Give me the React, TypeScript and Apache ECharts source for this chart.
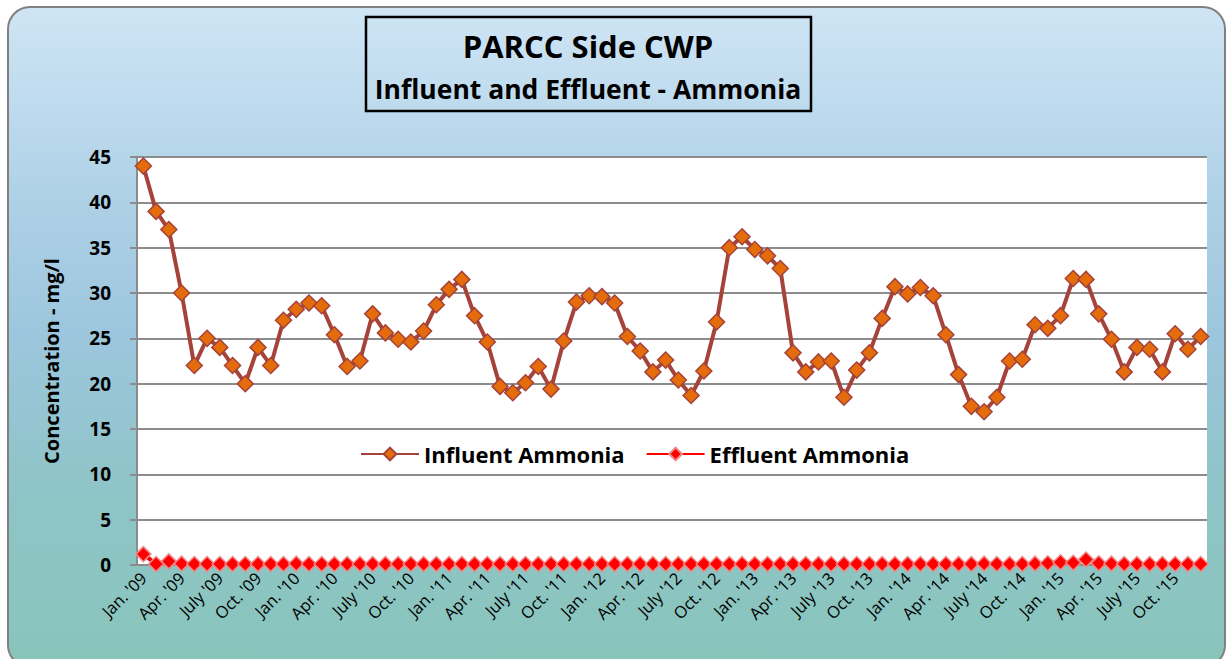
import React, { useEffect, useRef } from "react";
import * as echarts from "echarts";

const monthNames = ["Jan.", "Feb.", "Mar.", "Apr.", "May", "June", "July", "Aug.", "Sept.", "Oct.", "Nov.", "Dec."];
const years = ["09", "10", "11", "12", "13", "14", "15"];
const categories: string[] = [];
years.forEach((y) => monthNames.forEach((m) => categories.push(`${m} '${y}`)));

const influent = [
  44, 39, 37, 30, 22, 25, 24, 22, 20, 24, 22, 27,
  28.2, 28.9, 28.6, 25.4, 21.9, 22.5, 27.7, 25.6, 24.9, 24.6, 25.8, 28.7,
  30.4, 31.5, 27.5, 24.6, 19.7, 19, 20.1, 21.9, 19.4, 24.7, 29, 29.7,
  29.6, 28.9, 25.2, 23.6, 21.3, 22.6, 20.4, 18.7, 21.4, 26.8, 35, 36.2,
  34.8, 34.1, 32.7, 23.4, 21.3, 22.4, 22.5, 18.5, 21.5, 23.4, 27.2, 30.7,
  29.9, 30.6, 29.7, 25.4, 21, 17.5, 16.9, 18.5, 22.5, 22.7, 26.5, 26.1,
  27.5, 31.6, 31.5, 27.7, 24.9, 21.3, 24, 23.8, 21.3, 25.5, 23.8, 25.2,
];

const effluent = [
  1.2, 0.1, 0.4, 0.15, 0.1, 0.1, 0.1, 0.1, 0.1, 0.1, 0.1, 0.1,
  0.15, 0.1, 0.1, 0.1, 0.1, 0.1, 0.1, 0.1, 0.1, 0.1, 0.1, 0.1,
  0.1, 0.1, 0.1, 0.1, 0.1, 0.1, 0.1, 0.1, 0.1, 0.1, 0.1, 0.1,
  0.1, 0.1, 0.1, 0.1, 0.1, 0.1, 0.1, 0.1, 0.1, 0.1, 0.1, 0.1,
  0.1, 0.1, 0.1, 0.1, 0.1, 0.1, 0.1, 0.1, 0.1, 0.1, 0.1, 0.1,
  0.1, 0.1, 0.1, 0.1, 0.1, 0.1, 0.15, 0.1, 0.1, 0.1, 0.15, 0.2,
  0.3, 0.25, 0.6, 0.2, 0.15, 0.1, 0.1, 0.1, 0.1, 0.1, 0.1, 0.1,
];

const yTicks = { min: 0, max: 45, interval: 5 };

const FONT = "'Open Sans', Lato, sans-serif";

export default function App() {
  const ref = useRef<HTMLDivElement>(null);

  useEffect(() => {
    document.body.style.margin = "0";
    if (!ref.current) return;
    const chart = echarts.init(ref.current, undefined, { renderer: "svg" });
    chart.setOption({
      animation: false,
      textStyle: { fontFamily: FONT },
      graphic: [
        {
          type: "rect",
          z: -10,
          silent: true,
          shape: { x: 8, y: 7, width: 1217, height: 660, r: 22 },
          style: {
            fill: new echarts.graphic.LinearGradient(0, 0, 0, 1, [
              { offset: 0, color: "#cfe5f5" },
              { offset: 0.3, color: "#add0e6" },
              { offset: 0.5, color: "#9cc6dd" },
              { offset: 0.72, color: "#8fc4c8" },
              { offset: 1, color: "#89c5bb" },
            ]),
            stroke: "#808080",
            lineWidth: 2,
          },
        },
        {
          type: "rect",
          z: 10,
          silent: true,
          shape: { x: 366, y: 17, width: 445, height: 94 },
          style: { fill: "rgba(0,0,0,0)", stroke: "#000", lineWidth: 2.5 },
        },
        {
          type: "text",
          z: 10,
          x: 588,
          y: 46,
          style: {
            text: "PARCC Side CWP",
            fontFamily: FONT,
            fontWeight: "bold",
            fontSize: 31,
            fill: "#000",
            align: "center",
            verticalAlign: "middle",
          },
        },
        {
          type: "text",
          z: 10,
          x: 588,
          y: 89,
          style: {
            text: "Influent and Effluent - Ammonia",
            fontFamily: FONT,
            fontWeight: "bold",
            fontSize: 26.5,
            fill: "#000",
            align: "center",
            verticalAlign: "middle",
          },
        },
      ],
      grid: {
        left: 137,
        top: 157,
        right: 20,
        bottom: 94,
        show: true,
        backgroundColor: "#ffffff",
        borderWidth: 0,
      },
      legend: {
        left: 355,
        top: 438,
        itemWidth: 58,
        itemHeight: 16,
        itemGap: 21,
        textStyle: { fontFamily: FONT, fontWeight: "bold", fontSize: 22, color: "#000" },
        data: ["Influent Ammonia", "Effluent Ammonia"],
      },
      xAxis: {
        type: "category",
        data: categories,
        boundaryGap: true,
        axisLine: { show: true, lineStyle: { color: "#8c8c8c", width: 2 } },
        axisTick: { show: false },
        axisLabel: {
          interval: 2,
          rotate: 45,
          fontFamily: FONT,
          fontSize: 16.5,
          color: "#000",
          margin: 10,
        },
      },
      yAxis: {
        type: "value",
        min: yTicks.min,
        max: yTicks.max,
        interval: yTicks.interval,
        name: "Concentration - mg/l",
        nameLocation: "middle",
        nameGap: 76,
        nameTextStyle: { fontFamily: FONT, fontWeight: "bold", fontSize: 20, color: "#000" },
        axisLine: { show: true, lineStyle: { color: "#8c8c8c", width: 2 } },
        axisTick: { show: true, length: 7, lineStyle: { color: "#8c8c8c", width: 2 } },
        axisLabel: {
          fontFamily: FONT,
          fontWeight: "bold",
          fontSize: 19,
          color: "#000",
          margin: 26,
        },
        splitLine: { show: true, lineStyle: { color: "#8c8c8c", width: 2 } },
      },
      series: [
        {
          name: "Influent Ammonia",
          type: "line",
          data: influent,
          symbol: "diamond",
          symbolSize: 16,
          showAllSymbol: true,
          lineStyle: { color: "#a5433b", width: 4 },
          itemStyle: { color: "#e46c0a", borderColor: "#a5433b", borderWidth: 1.5 },
          z: 3,
        },
        {
          name: "Effluent Ammonia",
          type: "line",
          data: effluent,
          symbol: "diamond",
          symbolSize: 15,
          showAllSymbol: true,
          lineStyle: { color: "#ff0000", width: 4 },
          itemStyle: { color: "#ff0000", borderColor: "#f08a8a", borderWidth: 1.5 },
          z: 4,
        },
      ],
    });
    return () => chart.dispose();
  }, []);

  return <div ref={ref} style={{ width: 1227, height: 659 }} />;
}
